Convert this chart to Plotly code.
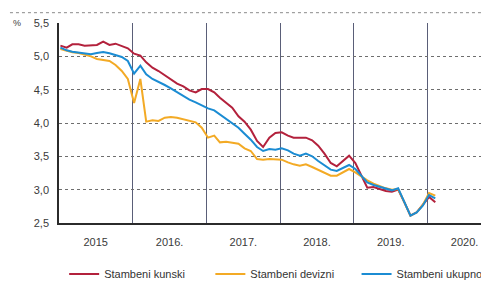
import pandas as pd
import plotly.graph_objects as go

# Monthly data, Jan 2015 - Feb 2020 (%)
months = pd.date_range("2015-01-01", "2020-02-01", freq="MS")

kunski = [5.16, 5.13, 5.18, 5.18, 5.16, 5.17, 5.17, 5.22, 5.17, 5.19, 5.16, 5.12,
          5.04, 5.01, 4.91, 4.83, 4.78, 4.72, 4.65, 4.59, 4.55, 4.49, 4.46, 4.51,
          4.51, 4.46, 4.38, 4.31, 4.23, 4.10, 4.02, 3.90, 3.73, 3.64, 3.78, 3.85,
          3.86, 3.81, 3.78, 3.78, 3.78, 3.74, 3.66, 3.54, 3.40, 3.35, 3.43, 3.51,
          3.40, 3.20, 3.03, 3.04, 3.01, 2.98, 2.97, 3.00, 2.81, 2.61, 2.66, 2.78,
          2.89, 2.81]
devizni = [5.11, 5.08, 5.06, 5.05, 5.03, 5.00, 4.96, 4.94, 4.93, 4.87, 4.78, 4.66,
           4.30, 4.66, 4.02, 4.04, 4.03, 4.08, 4.09, 4.08, 4.06, 4.03, 4.01, 3.93,
           3.78, 3.81, 3.71, 3.72, 3.70, 3.69, 3.62, 3.58, 3.46, 3.45, 3.46, 3.46,
           3.45, 3.41, 3.38, 3.36, 3.38, 3.34, 3.30, 3.26, 3.21, 3.21, 3.26, 3.31,
           3.26, 3.19, 3.14, 3.09, 3.05, 3.02, 3.00, 3.01, 2.81, 2.61, 2.66, 2.77,
           2.95, 2.91]
ukupno = [5.13, 5.09, 5.07, 5.06, 5.045, 5.03, 5.05, 5.065, 5.045, 5.02, 4.99, 4.93,
          4.74, 4.86, 4.73, 4.66, 4.62, 4.57, 4.52, 4.46, 4.40, 4.35, 4.31, 4.26,
          4.22, 4.19, 4.13, 4.07, 4.01, 3.93, 3.84, 3.75, 3.64, 3.58, 3.61, 3.60,
          3.62, 3.59, 3.54, 3.51, 3.54, 3.50, 3.43, 3.37, 3.30, 3.28, 3.33, 3.37,
          3.31, 3.21, 3.11, 3.07, 3.04, 3.01, 2.99, 3.02, 2.81, 2.61, 2.66, 2.76,
          2.92, 2.87]

series_names = ["Stambeni kunski", "Stambeni devizni", "Stambeni ukupno"]
series_values = [kunski, devizni, ukupno]
series_colors = ["#b3213c", "#f3aa25", "#1b8cd3"]
legend_ids = ["legend", "legend2", "legend3"]
legend_x = [0.012, 0.352, 0.692]

year_ticks = ["2015-07-02", "2016-07-02", "2017-07-02", "2018-07-02", "2019-07-02", "2020-07-02"]
year_labels = ["2015", "2016.", "2017.", "2018.", "2019.", "2020."]
y_ticks = [2.5, 3.0, 3.5, 4.0, 4.5, 5.0, 5.5]

x = months + pd.Timedelta(days=7)

fig = go.Figure()
for name, vals, col, lg in zip(series_names, series_values, series_colors, legend_ids):
    fig.add_trace(go.Scatter(x=x, y=vals, name=name, mode="lines", legend=lg,
                             line=dict(color=col, width=2)))

legend_style = dict(orientation="h", xanchor="left", y=-0.255, yanchor="middle",
                    font=dict(size=11, color="#333333"), bgcolor="rgba(0,0,0,0)")

# page body has an 8px default margin, so the figure is 8px smaller than the window
fig.update_layout(
    width=481, height=274,
    margin=dict(l=51, r=0, t=15, b=59, autoexpand=False),
    paper_bgcolor="white", plot_bgcolor="white",
    separators=",.",
    font=dict(family="Liberation Sans, Arial, sans-serif", size=11, color="#3a3a3a"),
    showlegend=True,
    legend=dict(x=legend_x[0], **legend_style),
    legend2=dict(x=legend_x[1], **legend_style),
    legend3=dict(x=legend_x[2], **legend_style),
    xaxis=dict(
        type="date", automargin=False,
        range=["2015-01-01", "2020-10-31"],
        tickmode="array", tickvals=year_ticks, ticktext=year_labels,
        showgrid=False, ticks="", ticklabelstandoff=8,
        showline=True, linecolor="#2b2b2b", linewidth=2,
        minor=dict(dtick="M12", tick0="2015-01-01", showgrid=True,
                   gridcolor="#5a5e78", gridwidth=1, ticks=""),
        zeroline=False, fixedrange=True,
    ),
    yaxis=dict(
        range=[2.5, 5.5], tickvals=y_ticks, tickformat=".1f", automargin=False,
        showgrid=True, gridcolor="#6e6e6e", gridwidth=1, griddash="dot",
        ticks="", ticklabelstandoff=6,
        showline=True, linecolor="#2b2b2b", linewidth=1.5,
        zeroline=False, fixedrange=True,
    ),
)

fig.add_annotation(text="%", xref="paper", yref="paper", x=-0.112, y=1.0, yanchor="middle",
                   showarrow=False, font=dict(size=9, color="#3a3a3a"))
fig.add_shape(type="line", xref="paper", yref="paper", x0=-0.114, x1=1, y0=1.0515, y1=1.0515,
              line=dict(color="#8a8a8a", width=1, dash="dot"))

fig.write_html("out.html")
